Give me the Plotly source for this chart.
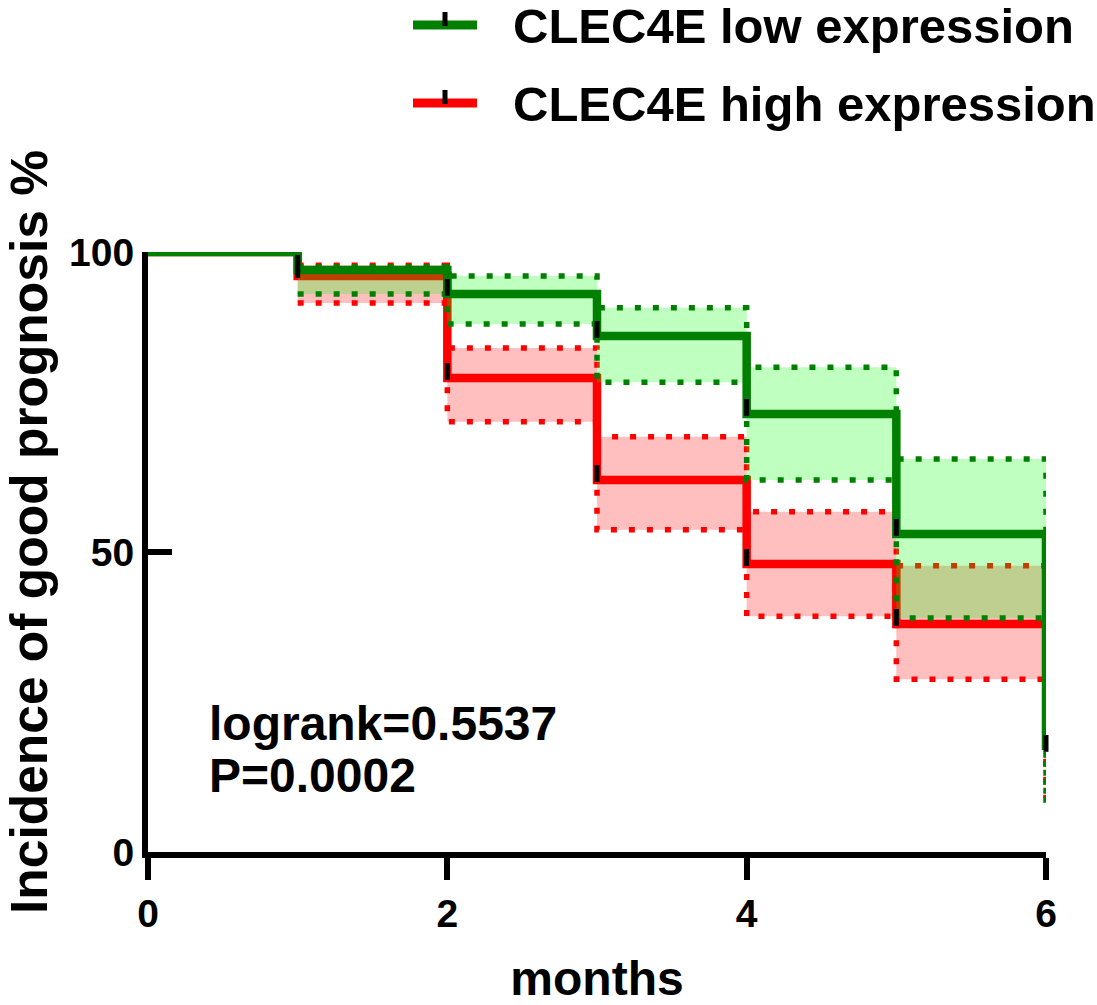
import plotly.graph_objects as go

# ---------------- data ----------------
months = [0, 1, 2, 3, 4, 5, 6]
ci_months = [1, 2, 3, 4, 5, 6]

low_surv = [100, 97, 93, 86, 73, 53, 17]
low_upper = [97.5, 96, 90.7, 80.8, 65.5, 8]
low_lower = [93, 88, 78.3, 62, 39, 8]

high_surv = [100, 96, 79, 62, 48, 38, 38]
high_upper = [97.8, 84, 69.2, 56.7, 47.7, 9]
high_lower = [91.5, 71.7, 53.7, 39.3, 28.8, 9]

low_censor_x = [1, 2, 3, 4, 5, 6]
low_censor_y = [97, 93, 86, 73, 53, 17]
high_censor_x = [1, 2, 3, 4, 5]
high_censor_y = [96, 79, 62, 48, 38]

x_ticks = [0, 2, 4, 6]
y_ticks = [0, 50, 100]

legend_names = ["CLEC4E low expression", "CLEC4E high expression"]
stat_lines = ["logrank=0.5537", "P=0.0002"]
x_title = "months"
y_title = "Incidence of good prognosis %"

GREEN = "#007f00"
RED = "#ff0000"
GREEN_FILL = "rgba(0,255,0,0.25)"
RED_FILL = "rgba(255,0,0,0.25)"
FONT = "Liberation Sans, Arial, sans-serif"

W, H = 1097, 1005
L, R, T, B = 148, 51, 252, 153


def px_x(p):
    return (p - L) / (W - L - R)


def px_y(p):
    return (H - B - p) / (H - T - B)


DOT = "6px,12px"

fig = go.Figure()


def add_group(surv, upper, lower, color, fill):
    fig.add_trace(go.Scatter(x=ci_months, y=lower, mode="lines", line=dict(color=color, width=5.5, dash=DOT, shape="hv"),
                             showlegend=False, cliponaxis=False, hoverinfo="skip"))
    fig.add_trace(go.Scatter(x=ci_months, y=upper, mode="lines", line=dict(color=color, width=5.5, dash=DOT, shape="hv"),
                             fill="tonexty", fillcolor=fill, showlegend=False, cliponaxis=False, hoverinfo="skip"))
    fig.add_trace(go.Scatter(x=months, y=surv, mode="lines", line=dict(color=color, width=8.5, shape="hv"),
                             showlegend=False, cliponaxis=False))


add_group(high_surv, high_upper, high_lower, RED, RED_FILL)
add_group(low_surv, low_upper, low_lower, GREEN, GREEN_FILL)

for cx, cy in [(high_censor_x, high_censor_y), (low_censor_x, low_censor_y)]:
    fig.add_trace(go.Scatter(x=cx, y=[v + 1.1 for v in cy], mode="markers",
                             marker=dict(symbol="line-ns", size=12, line=dict(color="black", width=5)),
                             showlegend=False, cliponaxis=False, hoverinfo="skip"))

# manual legend
shapes = []
annotations = []
legend_rows = [(25, GREEN), (103, RED)]
for (ypx, col), name in zip(legend_rows, legend_names):
    shapes.append(dict(type="line", xref="paper", yref="paper", x0=px_x(413), x1=px_x(477),
                       y0=px_y(ypx), y1=px_y(ypx), line=dict(color=col, width=9)))
    shapes.append(dict(type="line", xref="paper", yref="paper", x0=px_x(445), x1=px_x(445),
                       y0=px_y(ypx - 13), y1=px_y(ypx + 1), line=dict(color="black", width=5)))
    annotations.append(dict(text=name, xref="paper", yref="paper", x=px_x(511), y=px_y(ypx + 1),
                            xanchor="left", yanchor="middle", showarrow=False,
                            font=dict(family=FONT, size=49, color="black", weight="bold")))

for i, s in enumerate(stat_lines):
    annotations.append(dict(text=s, xref="paper", yref="paper", x=px_x(207), y=px_y(723 + 52 * i),
                            xanchor="left", yanchor="middle", showarrow=False,
                            font=dict(family=FONT, size=48, color="black", weight="bold")))

annotations.append(dict(text=y_title, xref="paper", yref="paper", x=px_x(29), y=px_y(532),
                        xanchor="center", yanchor="middle", textangle=-90, showarrow=False,
                        font=dict(family=FONT, size=51.5, color="black", weight="bold")))

fig.update_layout(
    width=W, height=H,
    margin=dict(l=L, r=R, t=T, b=B, pad=0, autoexpand=False),
    plot_bgcolor="white", paper_bgcolor="white",
    shapes=shapes, annotations=annotations,
    showlegend=False,
    xaxis=dict(range=[0, 6], tickvals=x_ticks, ticks="outside", ticklen=22, tickwidth=6, tickcolor="black",
               showline=True, linewidth=6, linecolor="black", showgrid=False, zeroline=False,
               automargin=False,
               tickfont=dict(family=FONT, size=39, color="black", weight="bold"),
               ticklabelstandoff=0,
               title=dict(text=x_title, standoff=36, font=dict(family=FONT, size=48, color="black", weight="bold"))),
    yaxis=dict(range=[0, 100], tickvals=y_ticks, ticks="inside", ticklen=24, tickwidth=6, tickcolor="black",
               showline=True, linewidth=6, linecolor="black", showgrid=False, zeroline=False,
               automargin=False,
               tickfont=dict(family=FONT, size=39, color="black", weight="bold"),
               ticklabelstandoff=0),
)

fig.write_html("out.html", config={"displayModeBar": False},
               post_script="document.body.style.margin='0';document.body.style.overflow='hidden';")
